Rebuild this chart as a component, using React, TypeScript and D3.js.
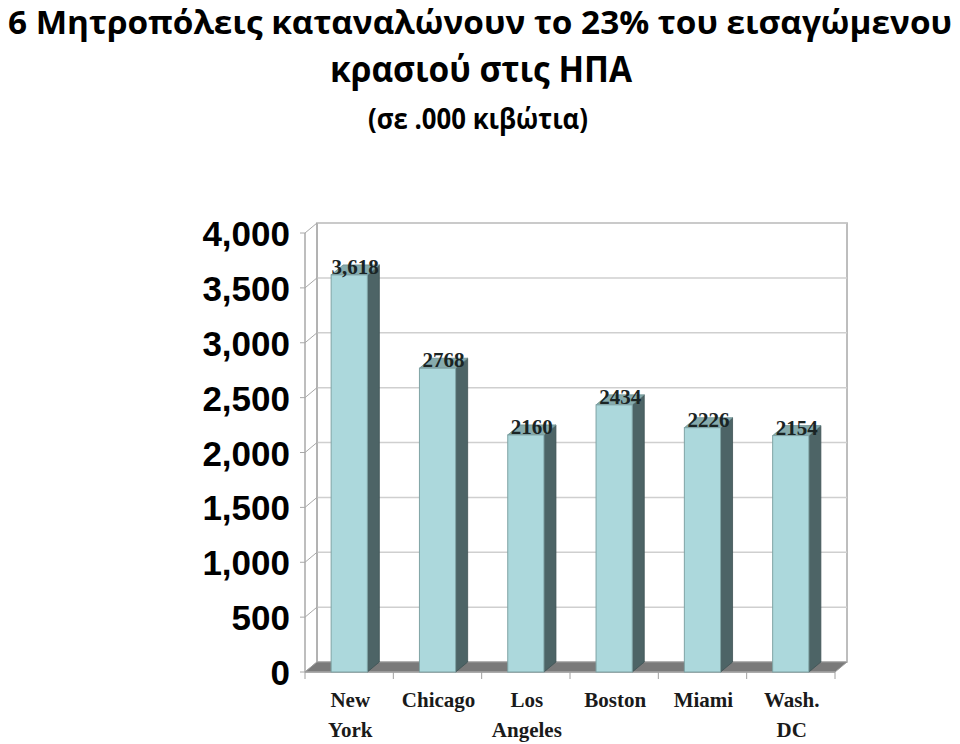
import React from "react";
import * as d3 from "d3";

const cities = ["New York", "Chicago", "Los Angeles", "Boston", "Miami", "Wash. DC"];
const cityLines = [["New", "York"], ["Chicago"], ["Los", "Angeles"], ["Boston"], ["Miami"], ["Wash.", "DC"]];
const values = [3618, 2768, 2160, 2434, 2226, 2154];
const valueLabels = ["3,618", "2768", "2160", "2434", "2226", "2154"];
const yTicks = [0, 500, 1000, 1500, 2000, 2500, 3000, 3500, 4000];
const titleLines = ["6 Μητροπόλεις καταναλώνουν το 23% του εισαγώμενου", "κρασιού στις ΗΠΑ"];
const subtitle = "(σε .000 κιβώτια)";

export default function App() {
  const W = 960, H = 744;
  const x0 = 305, x1 = 835;
  const yBase = 672, yTop = 233;
  const dx = 12, dy = -10;
  const x = d3.scaleBand<string>().domain(cities).range([x0, x1]).paddingInner(0.59).paddingOuter(0.296);
  const y = d3.scaleLinear().domain([0, 4000]).range([yBase, yTop]);
  const fmt = d3.format(",");
  const bw = x.bandwidth();
  const boundaries = d3.range(cities.length + 1).map((i) => x0 + (x1 - x0) * (i / cities.length));

  return (
    <svg width={W} height={H} style={{ position: "absolute", left: 0, top: 0, background: "#fff" }}>
      {/* Title */}
      <text x={480} y={34} textAnchor="middle" fontFamily="Open Sans" fontWeight="bold" fontSize={33}
        textLength={944} lengthAdjust="spacingAndGlyphs" fill="#000">{titleLines[0]}</text>
      <text x={481} y={82} textAnchor="middle" fontFamily="Open Sans" fontWeight="bold" fontSize={35}
        textLength={302} lengthAdjust="spacingAndGlyphs" fill="#000">{titleLines[1]}</text>
      <text x={478} y={129} textAnchor="middle" fontFamily="Open Sans" fontWeight="bold" fontSize={28}
        textLength={220} lengthAdjust="spacingAndGlyphs" fill="#000">{subtitle}</text>

      {/* back wall */}
      <rect x={x0 + dx} y={y(4000) + dy} width={x1 - x0} height={yBase - yTop} fill="#fff" stroke="#a8a8a8" strokeWidth={1.5} />
      {yTicks.map((t) => (
        <g key={t}>
          <line x1={x0 + dx} x2={x1 + dx} y1={y(t) + dy} y2={y(t) + dy} stroke="#cfcfcf" strokeWidth={1.5} />
          <line x1={x0} x2={x0 + dx} y1={y(t)} y2={y(t) + dy} stroke="#a8a8a8" strokeWidth={1} />
          <line x1={x0 - 5} x2={x0} y1={y(t)} y2={y(t)} stroke="#a8a8a8" strokeWidth={1} />
          <text x={290} y={y(t) + 13} textAnchor="end" fontFamily="Liberation Sans" fontWeight="bold" fontSize={35} fill="#000">
            {fmt(t)}
          </text>
        </g>
      ))}
      {/* left wall */}
      <line x1={x0} x2={x0} y1={yTop} y2={yBase} stroke="#a8a8a8" strokeWidth={1.5} />
      <line x1={x0 + dx} x2={x0 + dx} y1={yTop + dy} y2={yBase + dy} stroke="#a8a8a8" strokeWidth={1} />

      {/* floor */}
      <polygon points={`${x0},${yBase} ${x1},${yBase} ${x1 + dx},${yBase + dy} ${x0 + dx},${yBase + dy}`} fill="#7a7a7a" stroke="#9a9a9a" strokeWidth={1} />
      <line x1={x0} x2={x1} y1={yBase} y2={yBase} stroke="#a0a0a0" strokeWidth={1.5} />
      {boundaries.map((b, i) => (
        <line key={i} x1={b} x2={b} y1={yBase} y2={yBase + 7} stroke="#a0a0a0" strokeWidth={1} />
      ))}

      {/* bars */}
      {cities.map((c, i) => {
        const bx = x(c)!;
        const bx2 = bx + bw;
        const yv = y(values[i]);
        return (
          <g key={c}>
            <polygon points={`${bx2},${yv} ${bx2 + dx},${yv + dy} ${bx2 + dx},${yBase + dy} ${bx2},${yBase}`} fill="#4d6466" stroke="#3e5254" strokeWidth={0.8} />
            <polygon points={`${bx},${yv} ${bx2},${yv} ${bx2 + dx},${yv + dy} ${bx + dx},${yv + dy}`} fill="#86abad" stroke="#6d8f91" strokeWidth={0.8} />
            <rect x={bx} y={yv} width={bw} height={yBase - yv} fill="#acd8dc" stroke="#7fa3a5" strokeWidth={1} />
            <text x={bx + bw / 2 + dx / 2} y={yv - 1} textAnchor="middle" fontFamily="Liberation Serif" fontWeight="bold" fontSize={21} fill="#1a2424">
              {valueLabels[i]}
            </text>
            {cityLines[i].map((ln, j) => (
              <text key={j} x={bx + bw / 2 + 1} y={707 + j * 30} textAnchor="middle" fontFamily="Liberation Serif" fontWeight="bold" fontSize={21} fill="#1a1a1a">
                {ln}
              </text>
            ))}
          </g>
        );
      })}
    </svg>
  );
}
